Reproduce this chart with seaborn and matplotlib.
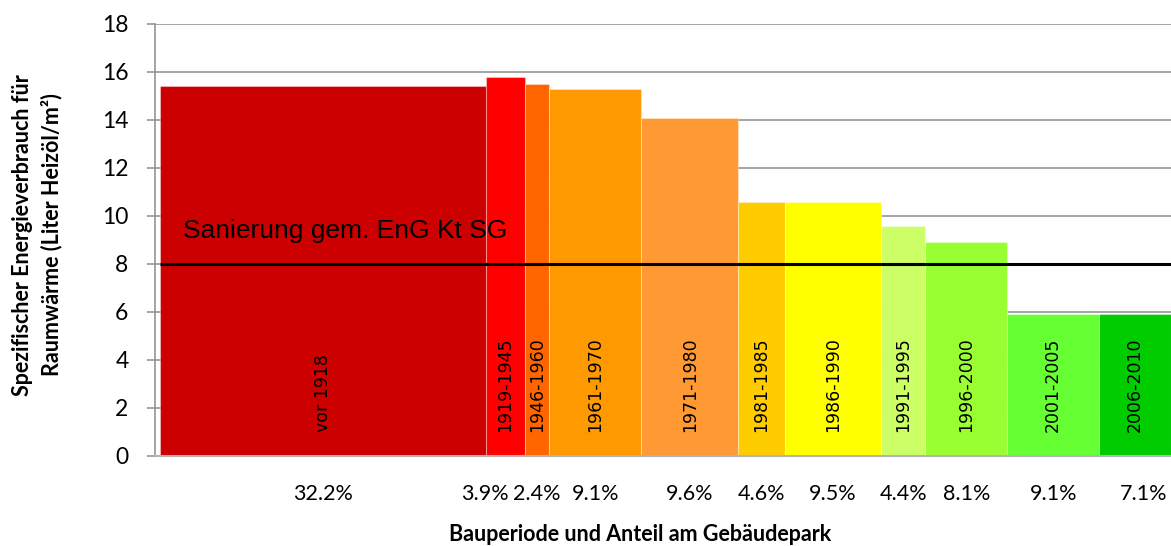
import numpy as np
import pandas as pd
import matplotlib
matplotlib.use("Agg")
import matplotlib.pyplot as plt
import seaborn as sns

# ---- data ----
periods = ["vor 1918", "1919-1945", "1946-1960", "1961-1970", "1971-1980",
           "1981-1985", "1986-1990", "1991-1995", "1996-2000", "2001-2005", "2006-2010"]
shares = [32.2, 3.9, 2.4, 9.1, 9.6, 4.6, 9.5, 4.4, 8.1, 9.1, 7.1]
values = [15.4, 15.8, 15.5, 15.3, 14.1, 10.6, 10.6, 9.6, 8.9, 5.9, 5.9]
threshold = 8.0
threshold_label = "Sanierung gem. EnG Kt SG"
y_ticks = [0, 2, 4, 6, 8, 10, 12, 14, 16, 18]
x_title = "Bauperiode und Anteil am Gebäudepark"
y_title = "Spezifischer Energieverbrauch für\nRaumwärme (Liter Heizöl/m²)"

# ---- style ----
colors = ["#CC0000", "#FF0000", "#FF6600", "#FF9900", "#FF9933", "#FFCC00",
          "#FFFF00", "#CCFF66", "#99FF33", "#66FF33", "#00CC00"]
label_offsets = {1: -2.0, 10: 0.8}

sns.set_theme(style="white")
plt.rcParams["font.family"] = ["Liberation Sans", "DejaVu Sans"]

edges = [0.0] + [float(v) for v in np.cumsum(shares)]
mids = [(a + b) / 2 for a, b in zip(edges[:-1], edges[1:])]
df = pd.DataFrame({"period": periods, "share": shares, "value": values, "mid": mids})

W, H = 1171, 546
fig = plt.figure(figsize=(W / 100, H / 100), dpi=100)
ax = fig.add_axes([155 / W, 90 / H, (W - 155) / W, 432 / H])

sns.histplot(data=df, x="mid", weights="value", bins=edges, stat="count",
             element="bars", fill=True, alpha=1, linewidth=0.8,
             edgecolor=(1, 1, 1, 0.35), ax=ax, zorder=2, legend=False)
for patch, c in zip(ax.patches, colors):
    patch.set_facecolor(c)

ax.hlines(threshold, 0, edges[-1], color="black", lw=2.2, zorder=4)
ax.text(2.3, 9.1, threshold_label, fontsize=19, va="baseline", ha="left",
        color="black", family=["Liberation Sans", "DejaVu Sans"], zorder=5)

for m, p in zip(mids, periods):
    ax.text(m, 1.0, p, rotation=90, rotation_mode="anchor", ha="left", va="center",
            fontsize=12.5, family="DejaVu Sans", color="black", zorder=5)

xmin = -5 / ((1016 - 5) / 100)
ax.set_xlim(xmin, 100)
ax.set_ylim(0, 18)
ax.set_yticks(y_ticks)
ax.set_yticklabels([str(t) for t in y_ticks], family="Lato", fontsize=16.5, color="black")
tick_pos = [m + label_offsets.get(i, 0) for i, m in enumerate(mids)]
ax.set_xticks(tick_pos)
ax.set_xticklabels([f"{s:.1f}%" for s in shares], family="Lato", fontsize=15.5, color="black")
ax.tick_params(axis="x", length=0, pad=20)
ax.tick_params(axis="y", length=6, width=1.1, color="#8c8c8c", pad=13, left=True, direction="out")
ax.set_xlabel("")
ax.set_ylabel("")

ax.set_axisbelow(True)
ax.yaxis.grid(True, color="#8c8c8c", lw=1.1)
ax.xaxis.grid(False)
for s in ["top", "right"]:
    ax.spines[s].set_visible(False)
ax.spines["left"].set_color("#8c8c8c")
ax.spines["left"].set_linewidth(1.1)
ax.spines["bottom"].set_color("#b4b4b4")
ax.spines["bottom"].set_linewidth(1.5)

fig.text(640 / W, 1 - 541 / H, x_title, ha="center", va="baseline",
         fontsize=15.5, fontweight="bold", family="Lato", color="black")
fig.text(37 / W, 1 - 235 / H, y_title, ha="center", va="center", rotation=90,
         fontsize=15.5, fontweight="bold", family="Lato", linespacing=1.45,
         multialignment="center", color="black")

fig.savefig("out.png", dpi=100)
